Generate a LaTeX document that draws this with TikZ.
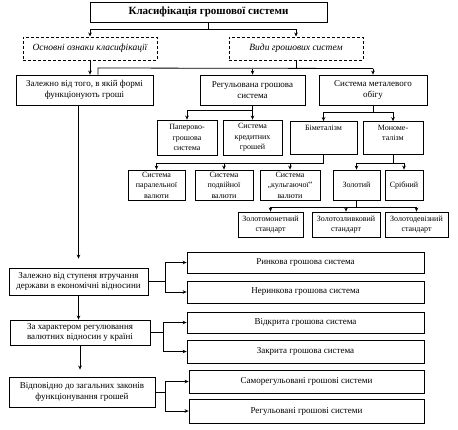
\documentclass[tikz,border=0pt]{standalone}
\usepackage{fontspec}
\setmainfont{Liberation Serif}
\usetikzlibrary{arrows.meta}

\begin{document}
\begin{tikzpicture}[x=1pt,y=-1pt,
    box/.style={draw,line width=0.8pt,inner sep=1pt,align=center,font=\fontsize{9}{10.5}\selectfont},
    mbox/.style={box,font=\fontsize{8}{10.5}\selectfont},
    ozn/.style={box,line width=1pt,dash pattern=on 3pt off 2pt,font=\fontsize{9.5}{11}\selectfont\itshape},
    lnk/.style={line width=0.8pt},
    arr/.style={lnk,-{Stealth[length=4pt,width=3.6pt]}}]
    \path[use as bounding box] (0,0) rectangle (458,429);

    % top
    \node[box,minimum width=237pt,minimum height=20pt,font=\fontsize{11}{13}\selectfont\bfseries] (klas) at (208.5,12) {Класифікація грошової системи};
    \node[ozn,minimum width=134pt,minimum height=23pt] (osn) at (90,48.5) {Основні ознаки класифікації};
    \node[ozn,minimum width=134pt,minimum height=23pt] (vydy) at (296,48.5) {Види грошових систем};

    \node[box,minimum width=137pt,minimum height=30pt] (zal) at (84.5,90) {Залежно від того, в якій формі\\функціонують гроші};
    \node[box,minimum width=105pt,minimum height=30pt] (reg) at (252.5,90) {Регульована грошова\\система};
    \node[box,minimum width=108pt,minimum height=30pt] (met) at (373,90) {Система металевого\\обігу};

    % types
    \node[mbox,minimum width=60pt,minimum height=35pt] (pap) at (187,137.5) {Паперово-\\грошова\\система};
    \node[mbox,minimum width=59pt,minimum height=35pt] (kred) at (252.5,137.5) {Система\\кредитних\\грошей};
    \node[mbox,minimum width=67pt,minimum height=33pt] (bim) at (323.5,138) {Біметалізм\\~\\~};
    \node[mbox,minimum width=60pt,minimum height=33pt] (mono) at (393,138) {Мономе-\\талізм\\~};

    \node[mbox,minimum width=57pt,minimum height=30pt] (par) at (156.5,185) {Система\\паралельної\\валюти};
    \node[mbox,minimum width=58pt,minimum height=30pt] (pod) at (224,185) {Система\\подвійної\\валюти};
    \node[mbox,minimum width=60pt,minimum height=30pt] (kulg) at (290,185) {Система\\„кульгаючої”\\валюти};
    \node[mbox,minimum width=47pt,minimum height=30pt] (zol) at (356.5,185) {Золотий};
    \node[mbox,minimum width=38pt,minimum height=30pt] (srib) at (404,185) {Срібний};

    \node[mbox,minimum width=65pt,minimum height=25pt] (zm) at (270.5,224.5) {Золотомонетний\\стандарт};
    \node[mbox,minimum width=68pt,minimum height=25pt] (zz) at (346,224.5) {Золотозливковий\\стандарт};
    \node[mbox,minimum width=63pt,minimum height=25pt] (zd) at (416.5,224.5) {Золотодевізний\\стандарт};

    % features
    \node[box,minimum width=139pt,minimum height=27pt] (stup) at (78.5,281.5) {Залежно від ступеня втручання\\держави в економічні відносини};
    \node[box,minimum width=237pt,minimum height=21pt] (ryn) at (305.5,262.5) {Ринкова грошова система};
    \node[box,minimum width=237pt,minimum height=22pt] (neryn) at (305.5,292) {Неринкова грошова система};

    \node[box,minimum width=140pt,minimum height=25pt] (har) at (80,332.5) {За характером регулювання\\валютних відносин у країні};
    \node[box,minimum width=237pt,minimum height=21pt] (vidk) at (305.5,322.5) {Відкрита грошова система};
    \node[box,minimum width=237pt,minimum height=23pt] (zakr) at (305.5,351.5) {Закрита грошова система};

    \node[box,minimum width=146pt,minimum height=30pt] (zak) at (82,392) {Відповідно до загальних законів\\функціонування грошей};
    \node[box,minimum width=235pt,minimum height=23pt] (samo) at (306.5,381.5) {Саморегульовані грошові системи};
    \node[box,minimum width=235pt,minimum height=24pt] (regs) at (306.5,411) {Регульовані грошові системи};

    % connectors, upper part
    \draw[lnk] (klas.south) -- ++(0,7) coordinate (k1);
    \draw[lnk] (k1 -| osn) -- (k1 -| vydy);
    \draw[arr] (k1 -| osn) -- (osn);
    \draw[arr] (k1 -| vydy) -- (vydy);
    \draw[arr] (osn) -- (osn |- zal.north);

    \draw[lnk] (vydy.south) -- ++(0,8) coordinate (v1);
    \coordinate (v0) at (98,68);
    \draw[lnk] (v0 |- zal.north) -- (v0) -- (v1 -| met);
    \draw[arr] (v1 -| reg) -- (reg);
    \draw[arr] (v1 -| met) -- (met);

    \draw[lnk] (reg.south) -- ++(0,5) coordinate (r1);
    \draw[lnk] (r1 -| pap) -- (r1 -| kred);
    \draw[arr] (r1 -| pap) -- (pap);
    \draw[arr] (r1 -| kred) -- (kred);

    \draw[lnk] (met.south) -- ++(0,7) coordinate (m1);
    \draw[lnk] (m1 -| bim) -- (m1 -| mono);
    \draw[arr] (m1 -| bim) -- (bim);
    \draw[arr] (m1 -| mono) -- (mono);

    \draw[lnk] (bim.south) -- ++(0,8) coordinate (b1);
    \draw[lnk] (b1 -| par) -- (b1);
    \draw[arr] (b1 -| par) -- (par);
    \draw[arr] (b1 -| pod) -- (pod);
    \draw[arr] (b1 -| kulg) -- (kulg);

    \draw[lnk] (mono.south) -- ++(0,8) coordinate (n1);
    \draw[lnk] (n1 -| zol) -- (n1 -| srib);
    \draw[arr] (n1 -| zol) -- (zol);
    \draw[arr] (n1 -| srib) -- (srib);

    \draw[lnk] (zol.south) -- ++(0,7) coordinate (z1);
    \draw[lnk] (z1 -| zm) -- (z1 -| zd);
    \draw[arr] (z1 -| zm) -- (zm);
    \draw[arr] (z1 -| zz) -- (zz);
    \draw[arr] (z1 -| zd) -- (zd);

    % connectors, lower part
    \draw[arr,shorten >=9pt] (zal.south -| stup.north) -- (stup.north);
    \draw[arr] (stup.south) -- (stup.south |- har.north);
    \draw[arr,shorten >=7pt] (har.south) -- (har.south |- zak.north);

    \draw[lnk] (stup.east) -- ++(17,0) coordinate (p1);
    \draw[arr] (p1) |- (ryn);
    \draw[arr] (p1) |- (neryn);
    \draw[lnk] (har.east) -- ++(13,0) coordinate (p2);
    \draw[arr] (p2) |- (vidk);
    \draw[arr] (p2) |- (zakr);
    \draw[lnk] (zak.east) -- ++(10,0) coordinate (p3);
    \draw[arr] (p3) |- (samo);
    \draw[arr] (p3) |- (regs);
\end{tikzpicture}
\end{document}
